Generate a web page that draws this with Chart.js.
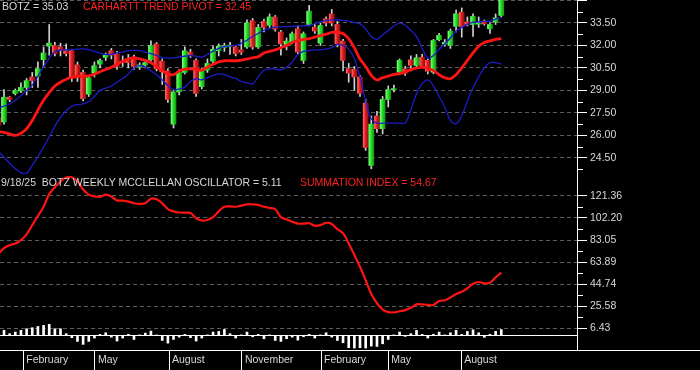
<!DOCTYPE html>
<html>
<head>
<meta charset="utf-8">
<script src="https://cdn.jsdelivr.net/npm/chart.js@4.4.1/dist/chart.umd.min.js"></script>
<style>
  html, body { margin: 0; padding: 0; background: #000; }
  #wrap { position: relative; width: 700px; height: 370px; overflow: hidden; background: #000; }
  canvas { position: absolute; left: 0; }
  #price { top: 0; }
  #osc { top: 174px; }
  .lbl { position: absolute; font: 10.5px "Liberation Sans", Arial, sans-serif; line-height: 12px; white-space: pre; color: #d8d8d8; }
  .red { color: #ff2020; }
</style>
</head>
<body>
<div id="wrap">
  <canvas id="price" width="700" height="174"></canvas>
  <canvas id="osc" width="700" height="196"></canvas>
  <div class="lbl" style="left:2px;top:0px">BOTZ = 35.03</div>
  <div class="lbl red" style="left:83px;top:0px">CARHARTT TREND PIVOT = 32.45</div>
  <div class="lbl" style="left:1px;top:176px">9/18/25  BOTZ WEEKLY MCCLELLAN OSCILLATOR = 5.11</div>
  <div class="lbl red" style="left:300px;top:176px">SUMMATION INDEX = 54.67</div>
</div>
<script>
// weekly bars, index 0 = week cut off at the left edge, last = 9/18/25
const opens = [27.2,
  26.9,28.55,28.8,28.95,29.2,29.9,29.95,31.05,31.95,32.0,
  31.9,31.65,31.65,30.7,30.2,28.75,30.15,30.75,31.2,31.65,
  31.45,30.95,31.0,31.2,30.55,30.7,31.05,32.1,30.95,30.3,
  26.75,28.9,30.2,31.55,31.0,29.25,30.35,30.95,31.65,31.85,
  31.95,31.9,31.7,31.9,33.65,31.9,33.6,33.35,33.9,32.9,
  32.07,32.22,33.11,31.0,33.4,33.22,32.16,33.78,34.1,33.4,
  32.29,30.45,30.4,29.9,28.15,24.0,27.3,26.45,28.4,29.05,
  30.22,30.44,31.04,30.67,31.22,31.0,30.22,32.38,32.1,32.0,
  33.27,34.22,33.56,33.4,33.42,33.62,33.11,33.56,34.0];
const closes = [26.65,
  28.55,28.4,29.0,29.2,29.65,29.65,30.45,31.5,32.15,31.45,
  31.65,31.45,29.8,29.85,28.45,29.85,30.65,31.0,31.35,31.35,
  30.6,30.85,30.85,30.6,30.7,30.85,32.0,30.45,30.25,28.4,
  28.9,30.2,31.65,31.35,28.8,30.35,30.8,31.75,31.95,32.0,
  32.0,31.45,31.55,33.5,31.9,33.2,33.2,33.9,33.1,32.1,
  32.29,32.78,31.56,32.78,34.29,32.96,33.33,33.49,33.5,32.11,
  31.0,30.15,29.9,28.8,25.2,26.75,26.45,28.4,29.05,29.12,
  31.0,30.15,30.67,31.18,30.67,30.29,32.33,32.67,32.2,32.96,
  34.11,33.27,33.4,33.93,33.46,33.44,33.4,33.84,35.03];
const highs = [27.4,
  29.05,28.6,29.1,29.5,29.8,30.2,30.9,31.9,33.4,32.2,
  32.15,32.1,31.75,30.9,30.35,30.0,30.9,31.1,31.5,31.8,
  31.6,31.3,31.4,31.35,30.85,31.0,32.3,32.2,31.1,30.45,
  29.0,30.4,31.9,31.75,31.1,30.5,31.1,31.95,32.1,32.15,
  32.2,32.0,32.4,33.7,33.8,33.4,33.75,34.1,34.0,33.0,
  32.5,32.9,33.3,32.9,34.67,33.4,33.5,33.9,34.4,33.6,
  32.4,30.8,30.6,30.0,28.4,27.3,27.6,28.6,29.3,29.35,
  31.1,30.6,31.3,31.4,31.4,31.1,32.4,32.8,32.4,33.1,
  34.35,34.5,33.9,34.1,33.9,33.7,33.5,34.1,35.03];
const lows = [26.5,
  26.75,28.25,28.7,28.85,28.7,29.2,29.2,30.55,31.35,31.3,
  31.3,31.3,29.6,29.6,28.3,28.6,29.9,30.5,31.0,31.1,
  30.4,30.6,30.5,30.4,30.4,30.5,30.95,30.3,29.4,28.2,
  26.5,28.7,30.1,31.2,28.6,29.1,30.2,30.8,31.3,31.6,
  31.4,31.3,31.4,31.8,31.75,31.8,32.9,33.2,32.95,31.35,
  31.7,32.1,31.4,30.8,33.3,32.8,32.0,33.3,33.3,31.9,
  30.3,29.55,29.0,28.6,25.0,23.78,26.2,26.1,27.9,28.9,
  30.1,30.0,30.3,30.5,30.5,30.1,30.11,32.3,31.95,31.8,
  32.9,32.55,33.3,32.6,33.2,33.35,32.8,33.4,33.9];

const upperBand = [27.85,
  27.95,28.1,28.35,28.65,29.0,29.35,29.95,30.56,31.15,31.6,
  31.7,31.7,31.72,31.75,31.77,31.72,31.6,31.48,31.4,31.4,
  31.5,31.56,31.65,31.67,31.66,31.55,31.45,31.33,31.2,31.16,
  31.18,31.23,31.28,31.33,31.28,31.22,31.4,31.62,31.8,31.93,
  31.97,32.0,32.15,32.35,32.6,32.8,33.02,33.12,33.22,33.24,
  33.25,33.27,33.29,33.31,33.33,33.45,33.58,33.66,33.7,33.7,
  33.67,33.62,33.53,33.44,33.1,32.6,32.4,32.7,33.0,33.3,
  33.49,33.35,33.0,32.6,31.8,31.15,31.33,31.75,32.1,32.5,
  32.95,33.2,33.4,33.55,33.58,33.6,33.62,33.75,33.85];
const lowerBand = [24.95,
  24.55,24.15,23.8,23.52,23.49,24.0,24.6,25.22,25.9,26.6,
  27.2,27.65,27.95,28.05,28.11,28.25,28.6,29.0,29.15,29.3,
  29.55,29.8,30.1,30.5,30.65,30.56,30.3,30.05,29.7,29.33,
  29.05,29.1,29.22,29.6,29.78,29.71,29.85,30.0,30.1,30.05,
  29.9,29.8,29.6,29.5,29.45,29.9,30.35,30.44,30.42,30.38,
  30.55,30.9,31.4,31.6,31.67,31.7,31.71,31.75,31.85,32.05,
  32.0,31.75,31.1,29.9,28.3,27.1,26.82,26.82,26.82,26.82,
  26.82,26.82,27.7,28.8,29.45,29.7,29.3,28.6,27.9,27.0,
  26.78,27.3,28.3,29.2,29.9,30.5,30.85,30.85,30.75];
const trendPivot = [26.25,
  26.2,26.1,26.0,26.15,26.45,27.0,27.7,28.35,28.85,29.3,
  29.55,29.75,29.88,29.93,29.93,29.98,30.08,30.25,30.4,30.55,
  30.75,30.95,31.1,31.18,31.1,31.0,30.85,30.6,30.3,30.1,
  30.05,30.3,30.42,30.44,30.4,30.35,30.55,30.75,30.9,30.98,
  30.98,30.98,31.02,31.1,31.18,31.25,31.5,31.6,31.7,31.85,
  32.0,32.2,32.33,32.4,32.45,32.55,32.65,32.75,32.87,32.87,
  32.8,32.45,31.85,31.1,30.6,30.0,29.7,29.85,29.95,30.07,
  30.12,30.22,30.4,30.48,30.56,30.45,30.33,30.05,29.85,29.78,
  30.05,30.5,31.0,31.5,31.95,32.2,32.3,32.4,32.45];

const summation = [71,
  76,78.5,80,83,88,96,104,112,123,129,
  134,137.5,137.6,134,127,122.5,121,120.7,122.5,121,
  117.5,117.3,116.5,115,114.5,115,119,118.5,115,110,
  108,107,106.8,106.5,102,100,100.5,103,108,112,
  112.3,112,113,114.1,114.1,113.5,112,111,109.8,103,
  101,99,97.3,97.3,97.6,95.5,96,98,97,92.5,
  89,80,70,59.8,48,36,28,22.5,20.3,20,
  21,22,24,27,27,26.5,26.5,30,30.6,33,
  36,38,41,45,46.5,45.4,45.9,50.5,54.67];
const oscillator = [3.5,
  4.4,1.5,2.9,4.4,5.8,6.7,7.8,8.7,9.6,5.8,
  5.8,1.5,-2.0,-5.2,-7.8,-5.2,-2.3,0.9,2.3,-1.5,
  -4.9,-2.3,0.9,-3.5,0.3,2.0,3.8,0.3,-4.4,-6.7,
  -3.5,-1.5,0.9,-2.0,-4.9,-2.3,0.3,2.9,3.5,5.2,
  1.5,-2.3,0.3,2.9,-1.2,0.9,-2.9,0.3,-4.4,-5.2,
  -2.9,-1.5,-4.1,-1.2,0.9,-2.3,0.3,2.3,-1.5,-4.4,
  -6.4,-10.7,-11,-10.7,-11,-9.3,-9.6,-7.3,-3.5,0.3,
  2.9,-0.9,1.5,4.4,0.9,-2.3,0.9,2.9,0.3,2.3,
  4.4,0.9,3.5,4.9,2.3,-1.7,0.9,3.5,5.11];

// axis labels (positions in weeks, same units as the bars)
const monthLabels = ['February','May','August','November','February','May','August'];
const monthPos = [3.4, 16.1, 29.2, 42.1, 56.1, 68.0, 80.9];
const priceTickValues = [24.5, 26.0, 27.5, 29.0, 30.5, 32.0, 33.5];
const priceTickLabels = ['24.50','26.00','27.50','29.00','30.50','32.00','33.50'];
const oscTickValues = [6.43, 25.58, 44.74, 63.89, 83.05, 102.20, 121.36];
const oscTickLabels = ['6.43','25.58','44.74','63.89','83.05','102.20','121.36'];

const X_MIN = -0.71, X_MAX = 101.4;
const FONT = { family: '"Liberation Sans", Arial, sans-serif', size: 10.5 };
const LABEL_COLOR = '#d8d8d8';
const GRID_COLOR = '#5c5c5c';

// first entry is one week before the visible range
const weeks = opens.map((_, i) => i - 1);
const pts = arr => arr.map((v, i) => ({ x: weeks[i], y: v }));

// price ticks: majors every 1.5 (+ unlabeled 35.00 at top), minors in between
function buildPriceTicks() {
  const out = [];
  priceTickValues.forEach((v, k) => {
    out.push({ value: v - 0.75, kind: 'minor', label: '' });
    out.push({ value: v, kind: 'major', label: priceTickLabels[k] });
  });
  const last = priceTickValues[priceTickValues.length - 1];
  out.push({ value: last + 0.75, kind: 'minor', label: '' });
  out.push({ value: last + 1.5, kind: 'major', label: '' });
  return out;
}
function buildOscTicks() {
  const out = [{ value: 0, kind: 'zero', label: '' }];
  oscTickValues.forEach((v, k) => {
    out.push({ value: v, kind: 'major', label: oscTickLabels[k] });
    if (k < oscTickValues.length - 1) {
      out.push({ value: (v + oscTickValues[k + 1]) / 2, kind: 'minor', label: '' });
    }
  });
  return out;
}

const kindOf = ctx => (ctx.tick && ctx.tick.kind) || '';

function rightAxis(min, max, buildTicks) {
  return {
    position: 'right', min: min, max: max,
    afterBuildTicks: s => { s.ticks = buildTicks(); },
    afterFit: s => { s.width = 123; s.paddingTop = 0; s.paddingBottom = 0; },
    ticks: {
      autoSkip: false, padding: 3, color: LABEL_COLOR, font: FONT,
      callback: (v, i, ticks) => ticks[i].label
    },
    grid: {
      tickLength: 10,
      tickColor: ctx => kindOf(ctx) === 'major' ? '#ffffff' : 'rgba(0,0,0,0)',
      color: ctx => kindOf(ctx) === 'major' ? GRID_COLOR : (kindOf(ctx) === 'zero' ? '#ffffff' : 'rgba(0,0,0,0)'),
      lineWidth: 1
    },
    border: {
      display: true, color: '#ffffff', width: 1,
      dash: ctx => kindOf(ctx) === 'zero' ? [] : [4, 3]
    }
  };
}

// short white ticks for the in-between values
const minorTicks = {
  id: 'minorTicks',
  afterDraw(chart) {
    const s = chart.scales.y;
    const c = chart.ctx;
    c.save();
    c.strokeStyle = '#ffffff';
    c.lineWidth = 1;
    c.beginPath();
    s.ticks.forEach(t => {
      if (t.kind !== 'minor') return;
      const y = Math.round(s.getPixelForValue(t.value)) + 0.5;
      c.moveTo(s.left, y);
      c.lineTo(s.left + 6, y);
    });
    c.stroke();
    c.restore();
  }
};

// time axis base line runs across the whole window
const fullBaseLine = {
  id: 'fullBaseLine',
  afterDraw(chart) {
    const c = chart.ctx;
    const y = Math.round(chart.chartArea.bottom) + 0.5;
    c.save();
    c.strokeStyle = '#ffffff';
    c.lineWidth = 1;
    c.beginPath();
    c.moveTo(0, y);
    c.lineTo(chart.width, y);
    c.stroke();
    c.restore();
  }
};

// candle bodies are shaded like little cylinders
const BODY_W = 5;
const greenStops = ['#7dff7d', '#26e026', '#129a12'];
const redStops = ['#ff6a6a', '#e21c1c', '#961010'];
function bodyColor(ctx) {
  const i = ctx.dataIndex;
  if (i === undefined || !ctx.raw) return '#22d622';
  const stops = closes[i] >= opens[i] ? greenStops : redStops;
  const xs = ctx.chart.scales.x;
  if (!xs || !isFinite(xs.getPixelForValue(ctx.raw.x))) return stops[1];
  const px = xs.getPixelForValue(ctx.raw.x);
  const g = ctx.chart.ctx.createLinearGradient(px - BODY_W / 2, 0, px + BODY_W / 2, 0);
  g.addColorStop(0, stops[0]);
  g.addColorStop(0.45, stops[1]);
  g.addColorStop(1, stops[2]);
  return g;
}

new Chart(document.getElementById('price'), {
  type: 'bar',
  data: {
    datasets: [
      { type: 'line', label: 'upper', data: pts(upperBand), borderColor: '#1c1cc8', borderWidth: 1.3, pointRadius: 0, tension: 0.35 },
      { type: 'line', label: 'lower', data: pts(lowerBand), borderColor: '#1c1cc8', borderWidth: 1.3, pointRadius: 0, tension: 0.35 },
      { type: 'line', label: 'pivot', data: pts(trendPivot), borderColor: '#ff1414', borderWidth: 2.8, pointRadius: 0, tension: 0.35 },
      {
        label: 'body', grouped: false, barThickness: BODY_W, minBarLength: 1,
        data: weeks.map((w, i) => ({ x: w, y: [opens[i], closes[i]] })),
        backgroundColor: bodyColor
      },
      {
        label: 'wick', grouped: false, barThickness: 1,
        data: weeks.map((w, i) => ({ x: w, y: [lows[i], highs[i]] })),
        backgroundColor: '#d0d0d0'
      }
    ]
  },
  options: {
    responsive: false, animation: false,
    layout: { padding: 0 },
    plugins: { legend: { display: false }, tooltip: { enabled: false } },
    scales: {
      x: { type: 'linear', min: X_MIN, max: X_MAX, offset: false, display: false },
      y: rightAxis(23.43, 35.03, buildPriceTicks)
    }
  },
  plugins: [minorTicks]
});

new Chart(document.getElementById('osc'), {
  type: 'bar',
  data: {
    datasets: [
      { type: 'line', label: 'summation', data: pts(summation), borderColor: '#ff1414', borderWidth: 2.2, pointRadius: 0, tension: 0.35 },
      { label: 'oscillator', data: pts(oscillator), backgroundColor: '#ffffff', barThickness: 2 }
    ]
  },
  options: {
    responsive: false, animation: false,
    layout: { padding: 0 },
    plugins: { legend: { display: false }, tooltip: { enabled: false } },
    scales: {
      x: {
        type: 'linear', min: X_MIN, max: X_MAX, offset: false,
        afterBuildTicks: s => { s.ticks = monthPos.map(v => ({ value: v })); },
        afterFit: s => { s.height = 20; },
        ticks: {
          autoSkip: false, maxRotation: 0, align: 'start', labelOffset: 3, padding: -16,
          color: LABEL_COLOR, font: FONT,
          callback: (v, i) => monthLabels[i]
        },
        grid: { offset: false, drawOnChartArea: false, tickLength: 20, tickColor: '#ffffff', lineWidth: 1 },
        border: { display: true, color: '#ffffff' }
      },
      y: rightAxis(-12.7, 140.5, buildOscTicks)
    }
  },
  plugins: [minorTicks, fullBaseLine]
});
</script>
</body>
</html>
